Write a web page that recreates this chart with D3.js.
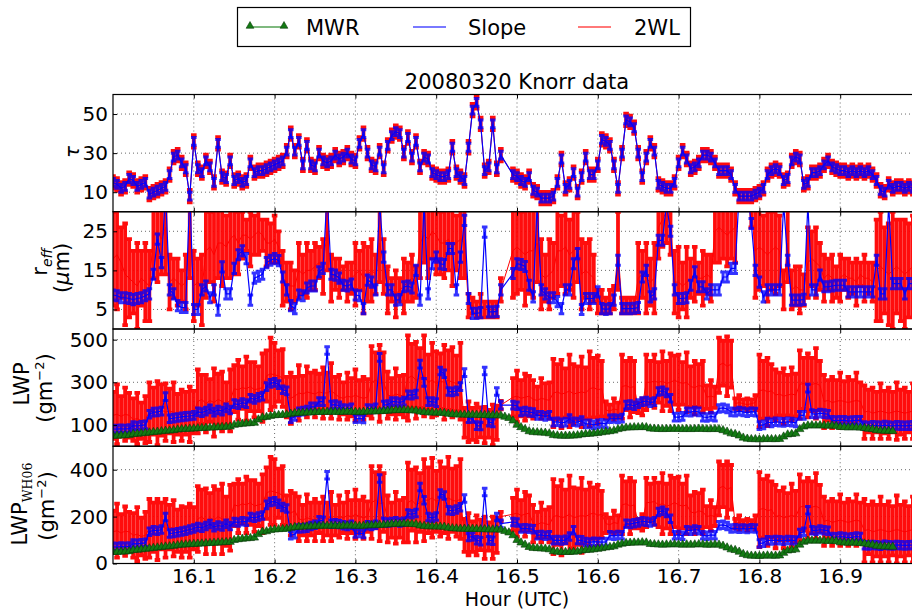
<!DOCTYPE html>
<html>
<head>
<meta charset="utf-8">
<script src="https://cdn.jsdelivr.net/npm/d3@7"></script>
<style>
  body { margin: 0; background: #fff; }
  text { font-family: "DejaVu Sans", sans-serif; }
</style>
</head>
<body>
<div id="chart"></div>
<script>
// samples every 0.005 h starting at 16.0 UTC
const t0 = 16.0, dt = 0.005;

// optical depth (slope and 2WL read as the same curve)
const tau = [
  15,14,12,13,17,16,13,14,15,9,  10,11,12,13,19,28,29,25,22,8,
  36,22,20,26,23,15,35,18,17,26,  16,17,15,16,25,20,21,21,22,23,
  24,25,26,31,40,31,36,24,34,24,  23,30,26,25,26,29,27,28,30,27,
  26,35,40,30,24,23,31,22,34,39,  41,40,30,38,28,36,23,28,27,20,
  19,18,18,19,33,20,18,16,33,52,  56,45,21,23,45,22,29,null,null,19,
  18,16,15,18,11,10,7,7,7,8,  15,27,12,14,20,10,18,28,19,19,
  24,37,36,34,24,12,30,47,46,43,  30,18,28,35,31,14,13,12,12,15,
  25,31,27,22,23,25,29,29,28,25,  21,21,21,19,12,8,8,8,8,9,
  10,12,19,21,22,21,16,17,26,28,  27,14,15,20,20,21,24,26,23,22,
  21,21,20,21,20,21,20,21,19,16,  11,10,14,12,13,13,12,13,12,13
];
const tauErrSlope = 2, tauErr2WL = 3.2;

// effective radius (um)
const reffSlope = [
  8.7,8.5,8,8,7.8,7.5,7.8,8,8.5,9,  14,23,17,35,10,9,6,5.5,5.5,35,
  5,5,10,11,8,10,4.8,15.9,9,9,  15.5,19,20,18,7.4,13,13.5,14,17,17.6,
  18,17.5,13.3,10,6,5.2,8.7,8.5,10.5,11,  11,14.6,15.5,35,14,13.8,13,11.2,11,11.5,
  8.7,8.5,5.2,12.5,12,10,32,18.4,10,10,  7.4,7.5,10.8,11,10.5,15,7.4,32,9,16.7,
  18.4,16.7,16.5,20.6,20.6,10,18.4,27.8,7.8,4,  4,4.2,24.8,4.4,4.4,4.5,10,null,null,14.2,
  16.7,16.5,16,11.2,8.2,32,10,9,8,8,  7,5.2,10,10,16.7,19.3,5,7.8,7.8,7.8,
  9.5,5.2,5,5.2,7.4,17.6,5.2,5.2,5.2,5.3,  5.5,13.3,15,8.2,9,22.7,22.7,32,25,10,
  7.8,7.8,8,11.2,14.6,10.8,10.8,9,10,10,  10,13.3,13.3,15.5,15.5,35,35,35,27,15,
  12,8.2,10,10,10,10,32,17.6,7.4,7.4,  7.4,7.6,32,10,10,13.8,10.8,10.8,11,11.2,
  11.2,11.2,9.5,9.5,9.5,9.5,9.5,9.5,9.5,17.6,  9,9,32,11.6,11.6,11.6,9,11.6,11.6,11
];
const reffErrSlope = 1.3;
const reff2WL = [
  18,19,17,14,13,12,11,13,12,11,  24,25,23,26,12,13,12,11,12,25,
  11,12,10,20,21,19,22,22,21,23,  24,22,24,24,23,24,25,24,22,22,
  23,21,13,12,11,11,15,14,15,15,  16,17,16,25,13,14,13,13,12,13,
  14,15,13,14,15,14,22,16,10,10,  9,10,11,12,13,12,22,24,23,25,
  24,22,22,23,21,22,23,22,6,6,  5,6,5,5,5,5,10,null,null,20,
  21,20,19,20,20,22,14,13,14,15,  20,20,21,19,20,21,14,15,14,13,
  7,7,6,7,8,20,6,6,6,6,  13,14,13,12,13,26,28,30,27,12,
  12,11,12,13,14,13,13,14,13,25,  26,25,24,25,26,35,35,35,30,20,
  21,20,19,20,21,20,10,22,10,11,  10,10,17,18,17,16,13,14,13,12,
  13,14,13,13,12,14,13,13,12,15,  16,15,14,15,16,15,14,15,16,15
];
const reff2WLErr = [
  12,14,9,13,10,8,11,7,10,9,  11,13,9,12,7,5,6,4,7,12,
  9,6,9,12,9,12,9,11,8,10,  10,8,6,4,7,5,6,4,6,5,
  6,4,7,5,6,4,7,5,7,5,  6,4,7,10,6,4,5,3,5,4,
  8,5,9,7,8,5,10,7,6,3,  6,3,7,5,6,4,9,7,10,7,
  10,8,9,8,10,7,10,9,3,2,  2,3,2,2,2,2,3,0,0,12,
  12,10,13,11,12,10,9,6,9,7,  11,9,12,9,12,9,9,7,9,6,
  3,3,2,3,3,10,2,2,2,2,  9,6,9,6,9,8,7,8,8,8,
  9,6,9,5,7,4,7,5,6,8,  9,7,8,7,9,3,3,3,4,12,
  11,9,12,10,12,9,5,10,5,5,  6,4,9,7,9,6,6,4,6,4,
  6,4,5,4,6,3,6,4,5,13,  14,11,13,15,12,13,14,12,13,13
];

// liquid water path (g m-2)
const lwpSlope = [
  81,80,82,81,83,97,95,98,100,150,  160,161,165,233,129,132,135,138,140,142,
  145,161,158,165,175,160,170,165,180,170,  200,195,205,200,225,220,230,235,280,295,
  300,289,265,260,129,140,161,165,170,185,  185,209,209,449,193,195,190,177,175,180,
  129,130,128,177,175,180,417,193,195,209,  210,205,212,241,240,245,385,300,209,210,
  205,353,340,257,255,260,280,345,129,130,  97,95,353,113,110,257,193,null,null,193,
  190,161,165,160,158,145,145,140,145,113,  115,110,113,130,115,113,120,105,105,100,
  105,108,105,129,130,128,132,193,195,190,  200,209,212,205,209,257,260,250,225,137,
  137,140,161,160,165,161,137,135,140,137,  177,180,175,161,160,165,161,158,162,160,
  97,100,113,110,115,113,112,115,113,110,  145,145,273,153,150,155,153,150,121,120,
  122,121,118,120,122,121,97,95,98,97,  96,99,97,95,98,97,96,97,98,97
];
const lwpErrSlope = 18;
const lwp2WL = [
  145,150,140,150,145,125,130,120,125,160,  165,155,170,160,165,160,150,145,155,150,
  160,210,220,200,215,205,220,210,200,215,  270,265,275,270,280,265,270,275,330,340,
  335,330,320,230,225,235,250,245,255,250,  245,255,250,250,260,245,230,225,235,230,
  240,230,225,230,300,310,295,300,240,235,  245,240,235,320,330,310,320,330,300,310,
  295,305,300,310,300,295,305,110,115,105,  110,112,100,105,100,110,193,null,null,230,
  235,225,230,235,220,215,225,220,215,250,  255,245,250,260,245,250,255,250,270,275,
  265,270,170,165,175,170,280,285,275,280,  180,185,300,300,305,300,305,295,300,310,
  300,295,300,280,275,285,280,230,235,230,  380,390,375,385,200,205,200,195,200,205,
  260,265,255,260,240,245,235,240,245,240,  290,295,285,290,295,285,210,215,205,210,
  215,210,205,210,215,210,160,165,155,160,  165,160,155,160,165,160,155,160,165,160
];
const lwp2WLErr = [
  110,140,95,125,105,100,120,85,110,140,  110,150,120,135,105,140,95,120,100,130,
  100,150,115,135,100,160,120,140,100,145,  110,140,100,150,115,130,105,160,120,170,
  150,120,135,95,120,90,130,85,120,95,  110,85,120,95,130,80,105,75,110,90,
  120,80,100,85,170,130,180,140,110,85,  120,90,100,200,150,180,140,190,130,175,
  150,130,175,140,165,130,180,70,95,75,  90,70,85,65,95,80,20,0,0,90,
  120,85,110,95,90,65,95,75,85,160,  130,160,115,170,140,125,165,120,175,140,
  160,130,40,30,50,35,150,115,140,120,  25,40,130,100,125,95,140,105,135,115,
  130,100,140,95,125,100,120,55,75,50,  130,105,140,110,25,35,20,30,20,35,
  170,135,160,125,120,100,130,95,125,100,  160,120,150,125,165,115,125,95,120,100,
  130,95,120,100,130,90,125,100,120,95,  130,100,120,95,135,105,120,95,130,105
];
const mwr = [
  49,49,50,51,52,57,58,60,62,64,  66,68,70,72,73,75,78,80,81,82,
  83,84,85,86,87,88,89,90,91,92,  100,103,105,107,108,110,125,135,137,142,
  145,146,147,148,152,155,156,157,158,158,  160,160,161,161,161,161,160,161,162,161,
  161,160,161,162,163,163,164,165,166,168,  169,169,170,169,168,167,162,160,158,158,
  157,157,156,152,150,149,148,148,147,148,  147,146,146,145,145,145,144,138,132,120,
  100,89,80,70,66,65,64,63,60,52,  50,49,49,49,50,51,55,57,58,60,
  62,65,68,70,73,80,84,87,88,89,  89,90,89,83,82,81,80,81,81,82,
  81,80,81,80,81,82,81,80,80,81,  80,75,68,60,57,50,40,35,33,33,
  32,33,34,33,33,34,45,55,57,60,  80,92,97,98,97,98,97,96,97,95,
  90,89,88,89,88,87,85,82,80,75,  73,72,72,71,null,null,null,null,null,null
];

// LWP with the WH06 relation (g m-2)
const wh06Slope = [
  71,70,72,71,73,85,84,86,88,135,  142,140,145,198,128,130,133,136,140,145,
  149,156,152,160,168,155,162,158,170,160,  177,175,180,178,198,195,200,205,250,262,
  265,255,241,235,120,125,149,150,152,160,  165,184,182,376,170,172,168,163,160,165,
  128,130,126,163,160,165,362,177,175,177,  180,175,178,213,210,215,326,270,198,195,
  200,298,290,227,225,230,240,277,113,115,  99,95,305,99,97,198,170,null,null,177,
  175,149,150,148,146,120,122,118,120,99,  100,98,101,115,142,100,99,92,90,93,
  92,91,92,120,118,122,120,170,168,172,  175,180,178,175,180,220,225,215,191,120,
  122,118,142,140,145,142,120,118,122,120,  163,165,160,149,150,148,149,147,150,149,
  85,88,99,98,100,99,97,100,99,98,  130,135,227,142,140,145,142,140,113,112,
  115,113,110,112,115,113,78,77,79,78,  76,80,78,77,79,78,77,78,79,78
];
const wh06ErrSlope = 16;
const wh062WL = [
  135,140,130,138,135,120,125,115,120,150,  155,145,160,150,155,150,140,135,145,140,
  150,190,200,180,195,185,200,190,180,195,  250,245,255,250,260,245,250,255,300,310,
  305,300,290,220,215,225,190,185,195,190,  185,195,190,190,200,185,200,195,205,200,
  210,200,195,200,260,270,255,260,190,185,  195,190,185,260,270,250,260,270,270,280,
  265,275,270,280,270,265,275,120,125,115,  120,122,110,115,110,120,200,null,null,210,
  215,205,210,215,170,165,175,170,165,200,  205,195,200,210,195,200,205,200,210,215,
  205,210,170,165,175,170,250,255,245,250,  170,175,260,260,265,250,255,245,250,260,
  250,245,250,220,215,225,220,200,205,200,  320,330,315,325,170,175,170,165,170,175,
  230,235,225,230,200,205,195,200,205,200,  240,245,235,240,245,235,180,185,175,180,
  185,180,175,180,185,180,140,145,135,140,  145,140,135,140,145,140,135,140,145,140
];
const wh062WLErr = [
  90,115,80,105,85,95,115,80,100,125,  105,130,100,125,95,120,90,110,95,115,
  90,140,115,140,105,145,115,150,105,140,  90,115,85,120,95,110,90,125,110,145,
  140,105,125,70,95,75,95,65,100,70,  90,65,95,70,105,65,90,65,100,70,
  105,70,90,65,155,120,160,125,100,75,  110,80,95,170,130,160,125,175,140,170,
  130,160,140,175,135,150,170,70,90,65,  85,65,90,60,90,75,20,0,0,70,
  100,65,95,75,80,55,85,60,75,160,  125,160,115,165,130,120,160,115,135,110,
  130,100,40,30,50,35,125,95,120,100,  20,35,105,80,100,95,130,95,125,105,
  120,95,125,70,90,75,95,45,65,40,  115,90,120,95,20,30,15,25,15,30,
  160,125,150,120,135,105,130,100,135,110,  140,105,130,110,140,100,105,80,100,85,
  110,80,100,85,110,80,135,105,130,110,  140,110,130,105,145,110,130,105,140,110
];

const hourTicks = [16.1, 16.2, 16.3, 16.4, 16.5, 16.6, 16.7, 16.8, 16.9];
const seriesNames = ["MWR", "Slope", "2WL"];

const width = 912, height = 610;
const left = 113, right = 921;
const panelH = 117.25;
const tops = [94.5, 211.75, 329, 446.25];

const panels = [
  { domain: [0, 60], ticks: [10, 30, 50],
    slope: tau, slopeErr: tauErrSlope, twl: tau, twlErr: tauErr2WL, mwr: null },
  { domain: [0, 30], ticks: [5, 15, 25],
    slope: reffSlope, slopeErr: reffErrSlope, twl: reff2WL, twlErr: reff2WLErr, mwr: null },
  { domain: [0, 550], ticks: [100, 300, 500],
    slope: lwpSlope, slopeErr: lwpErrSlope, twl: lwp2WL, twlErr: lwp2WLErr, mwr: mwr },
  { domain: [0, 500], ticks: [0, 200, 400],
    slope: wh06Slope, slopeErr: wh06ErrSlope, twl: wh062WL, twlErr: wh062WLErr, mwr: mwr }
];

const colors = { MWR: "#0b7a0b", Slope: "#0000ff", "2WL": "#ff0000" };

const svg = d3.select("#chart").append("svg")
    .attr("width", width)
    .attr("height", height);

const x = d3.scaleLinear().domain([16.0, 17.0]).range([left, right]);
const hour = i => t0 + i * dt;

function errPath(vals, errs, y, cap) {
  const p = d3.path();
  vals.forEach((v, i) => {
    if (v == null) return;
    const e = typeof errs === "number" ? errs : errs[i];
    const xi = x(hour(i)), ylo = y(v - e), yhi = y(v + e);
    p.moveTo(xi, ylo); p.lineTo(xi, yhi);
    p.moveTo(xi - cap, ylo); p.lineTo(xi + cap, ylo);
    p.moveTo(xi - cap, yhi); p.lineTo(xi + cap, yhi);
  });
  return p.toString();
}

function points(vals) {
  return vals.map((v, i) => ({ i, v })).filter(d => d.v != null);
}

panels.forEach((pn, k) => {
  const top = tops[k], bottom = top + panelH;
  const y = d3.scaleLinear().domain(pn.domain).range([bottom, top]);
  const line = d3.line().x(d => x(hour(d.i))).y(d => y(d.v));

  svg.append("clipPath").attr("id", "clip" + k)
    .append("rect")
      .attr("x", left).attr("y", top)
      .attr("width", right - left).attr("height", panelH);

  const g = svg.append("g");

  // dotted grid
  g.selectAll(".vgrid").data(hourTicks).enter().append("line")
      .attr("x1", d => x(d)).attr("x2", d => x(d))
      .attr("y1", top).attr("y2", bottom)
      .attr("stroke", "#444").attr("stroke-width", 0.8)
      .attr("stroke-dasharray", "1,3");
  g.selectAll(".hgrid").data(pn.ticks).enter().append("line")
      .attr("x1", left).attr("x2", right)
      .attr("y1", d => y(d)).attr("y2", d => y(d))
      .attr("stroke", "#444").attr("stroke-width", 0.8)
      .attr("stroke-dasharray", "1,3");

  const plot = g.append("g").attr("clip-path", `url(#clip${k})`);

  // 2WL
  plot.append("path")
      .attr("d", errPath(pn.twl, pn.twlErr, y, 2.8))
      .attr("fill", "none").attr("stroke", colors["2WL"])
      .attr("stroke-width", 3.8).attr("stroke-opacity", 0.95);
  plot.append("path")
      .attr("d", line(points(pn.twl)))
      .attr("fill", "none").attr("stroke", colors["2WL"])
      .attr("stroke-width", 1);

  // Slope
  plot.append("path")
      .attr("d", errPath(pn.slope, pn.slopeErr, y, 2.8))
      .attr("fill", "none").attr("stroke", colors.Slope)
      .attr("stroke-width", 3).attr("stroke-opacity", 0.8);
  plot.append("path")
      .attr("d", line(points(pn.slope)))
      .attr("fill", "none").attr("stroke", colors.Slope)
      .attr("stroke-width", 1.2);

  // MWR
  if (pn.mwr) {
    const pts = points(pn.mwr);
    plot.append("path")
        .attr("d", line(pts))
        .attr("fill", "none").attr("stroke", colors.MWR)
        .attr("stroke-width", 1);
    plot.selectAll(".tri").data(pts).enter().append("path")
        .attr("transform", d => `translate(${x(hour(d.i))},${y(d.v)})`)
        .attr("d", d3.symbol(d3.symbolTriangle, 30))
        .attr("fill", "#137a13").attr("stroke", "#0a3a0a").attr("stroke-width", 0.6);
  }

  // frame
  g.append("rect")
      .attr("x", left).attr("y", top)
      .attr("width", right - left).attr("height", panelH)
      .attr("fill", "none").attr("stroke", "#000").attr("stroke-width", 1.2);

  // axes, ticks pointing inward
  const yAxis = g.append("g")
      .attr("transform", `translate(${left},0)`)
      .call(d3.axisLeft(y).tickValues(pn.ticks).tickSize(-4).tickPadding(5));
  yAxis.select(".domain").remove();
  yAxis.selectAll("text").attr("font-size", 20).attr("font-family", "DejaVu Sans").attr("fill", "#000");

  const topAxis = g.append("g")
      .attr("transform", `translate(0,${top})`)
      .call(d3.axisTop(x).tickValues(hourTicks).tickSize(-4).tickFormat(""));
  topAxis.select(".domain").remove();

  const botAxis = g.append("g")
      .attr("transform", `translate(0,${bottom})`)
      .call(d3.axisBottom(x).tickValues(hourTicks).tickSize(-4).tickPadding(5)
            .tickFormat(k === 3 ? d3.format(".1f") : ""));
  botAxis.select(".domain").remove();
  botAxis.selectAll("text").attr("font-size", 20).attr("font-family", "DejaVu Sans").attr("fill", "#000");
});

// y labels (rotated)
function ylabel(cx, cy) {
  return svg.append("text")
      .attr("transform", `translate(${cx},${cy}) rotate(-90)`)
      .attr("text-anchor", "middle")
      .attr("dy", "0.35em")
      .attr("font-size", 21)
      .attr("fill", "#000");
}
ylabel(72, 152).attr("font-style", "italic").attr("font-size", 20).text("τ");

const r1 = ylabel(40, 262);
r1.append("tspan").text("r");
r1.append("tspan").attr("dy", 5).attr("font-size", 14).attr("font-style", "italic").text("eff");
const r2 = ylabel(62, 268);
r2.append("tspan").text("(");
r2.append("tspan").attr("font-style", "italic").text("μ");
r2.append("tspan").text("m)");

const l1 = ylabel(22, 384);
l1.text("LWP");
const l2 = ylabel(45, 388);
l2.append("tspan").text("(gm");
l2.append("tspan").attr("dy", -8).attr("font-size", 13).text("−2");
l2.append("tspan").attr("dy", 8).text(")");

const w1 = ylabel(20, 504);
w1.append("tspan").text("LWP");
w1.append("tspan").attr("dy", 5).attr("font-size", 12.5)
    .attr("font-family", "DejaVu Serif").text("WH06");
const w2 = ylabel(47, 506);
w2.append("tspan").text("(gm");
w2.append("tspan").attr("dy", -8).attr("font-size", 13).text("−2");
w2.append("tspan").attr("dy", 8).text(")");

// x label and title
svg.append("text")
    .attr("x", (left + right) / 2).attr("y", 605.5)
    .attr("text-anchor", "middle").attr("font-size", 19)
    .text("Hour (UTC)");
svg.append("text")
    .attr("x", (left + right) / 2).attr("y", 89)
    .attr("text-anchor", "middle").attr("font-size", 21)
    .text("20080320 Knorr data");

// legend
const legend = svg.append("g");
legend.append("rect")
    .attr("x", 237.5).attr("y", 7.5)
    .attr("width", 453).attr("height", 39)
    .attr("fill", "#fff").attr("stroke", "#000").attr("stroke-width", 1.2);
const legendItems = [
  { name: seriesNames[0], x0: 250, x1: 284, tx: 306 },
  { name: seriesNames[1], x0: 413, x1: 446, tx: 468 },
  { name: seriesNames[2], x0: 578, x1: 611, tx: 634 }
];
legendItems.forEach(it => {
  legend.append("line")
      .attr("x1", it.x0).attr("x2", it.x1).attr("y1", 27).attr("y2", 27)
      .attr("stroke", colors[it.name]).attr("stroke-width", 1.5)
      .attr("stroke-opacity", 0.7);
  if (it.name === "MWR") {
    [it.x0, it.x1].forEach(px => {
      legend.append("path")
          .attr("transform", `translate(${px},26)`)
          .attr("d", d3.symbol(d3.symbolTriangle, 26))
          .attr("fill", "#137a13").attr("stroke", "#0a3a0a").attr("stroke-width", 0.6);
    });
  }
  legend.append("text")
      .attr("x", it.tx).attr("y", 35)
      .attr("font-size", 21)
      .text(it.name);
});
</script>
</body>
</html>
